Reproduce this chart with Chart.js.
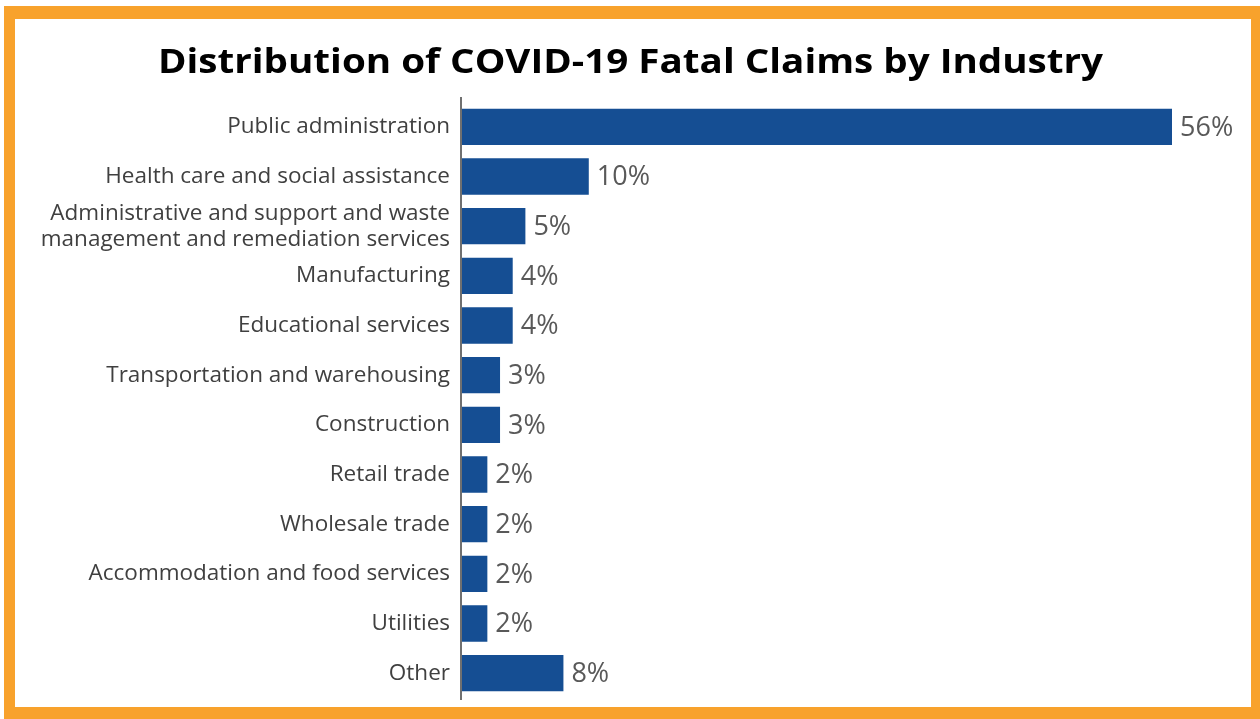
<!DOCTYPE html>
<html>
<head>
<meta charset="utf-8">
<script src="https://cdn.jsdelivr.net/npm/chart.js@4.4.0/dist/chart.umd.min.js"></script>
<style>
  html, body { margin: 0; padding: 0; background: #ffffff; width: 1260px; height: 719px; overflow: hidden; }
  #frame { position: absolute; left: 4px; top: 6px; width: 1236px; height: 688px; border: 11px solid #F8A22C; border-top-width: 13px; border-bottom-width: 12px; border-right-width: 9px; background: #fff; }
  #c { display: block; }
</style>
</head>
<body>
<div id="frame"><canvas id="c" width="1236" height="688"></canvas></div>
<script>
const categories = [
  "Public administration",
  "Health care and social assistance",
  ["Administrative and support and waste", "management and remediation services"],
  "Manufacturing",
  "Educational services",
  "Transportation and warehousing",
  "Construction",
  "Retail trade",
  "Wholesale trade",
  "Accommodation and food services",
  "Utilities",
  "Other"
];
const shares = [56, 10, 5, 4, 4, 3, 3, 2, 2, 2, 2, 8];
const valueLabels = ["56%", "10%", "5%", "4%", "4%", "3%", "3%", "2%", "2%", "2%", "2%", "8%"];
const chartTitle = "Distribution of COVID-19 Fatal Claims by Industry";

const FONT = "'Open Sans', 'Noto Sans', sans-serif";

const valueLabelPlugin = {
  id: 'valueLabels',
  afterDatasetsDraw(chart) {
    const ctx = chart.ctx;
    const meta = chart.getDatasetMeta(0);
    ctx.save();
    ctx.font = "27px " + FONT;
    ctx.fillStyle = "#595959";
    ctx.textAlign = "left";
    ctx.textBaseline = "middle";
    meta.data.forEach((bar, i) => {
      ctx.fillText(valueLabels[i], bar.x + 8, bar.y + 1);
    });
    ctx.restore();
  }
};

const axisLinePlugin = {
  id: 'axisLine',
  afterDatasetsDraw(chart) {
    const ctx = chart.ctx;
    const x0 = chart.scales.x.getPixelForValue(0) - 1;
    const a = chart.chartArea;
    ctx.save();
    ctx.strokeStyle = '#707070';
    ctx.lineWidth = 2;
    ctx.beginPath();
    ctx.moveTo(x0, a.top - 5);
    ctx.lineTo(x0, a.bottom + 2);
    ctx.stroke();
    ctx.restore();
  }
};

const titlePlugin = {
  id: 'centeredTitle',
  afterDraw(chart) {
    const ctx = chart.ctx;
    ctx.save();
    ctx.font = "bold 33.5px " + FONT;
    ctx.fillStyle = "#000000";
    ctx.textAlign = "center";
    ctx.textBaseline = "alphabetic";
    const w = ctx.measureText(chartTitle).width;
    const sx = 945 / w;
    ctx.translate(615.5, 54);
    ctx.scale(sx, 1);
    ctx.fillText(chartTitle, 0, 0);
    ctx.restore();
  }
};

new Chart(document.getElementById('c'), {
  type: 'bar',
  data: {
    labels: categories,
    datasets: [{
      data: shares,
      backgroundColor: '#154E93',
      borderWidth: 0,
      barPercentage: 0.73,
      categoryPercentage: 1.0
    }]
  },
  options: {
    indexAxis: 'y',
    responsive: false,
    animation: false,
    devicePixelRatio: 1,
    layout: { padding: { left: 0, right: 79, top: 83, bottom: 9 } },
    plugins: {
      legend: { display: false },
      tooltip: { enabled: false },
      title: { display: false }
    },
    scales: {
      x: {
        display: false,
        min: 0,
        max: 56
      },
      y: {
        afterFit(scale) { scale.width = 447; scale.paddingTop = 0; scale.paddingBottom = 0; },
        grid: { display: false, drawTicks: false },
        border: { display: false },
        ticks: {
          color: '#404040',
          font: { family: FONT, size: 22.5, lineHeight: 1.15 },
          padding: 12,
          autoSkip: false
        }
      }
    }
  },
  plugins: [valueLabelPlugin, axisLinePlugin, titlePlugin]
});
</script>
</body>
</html>
